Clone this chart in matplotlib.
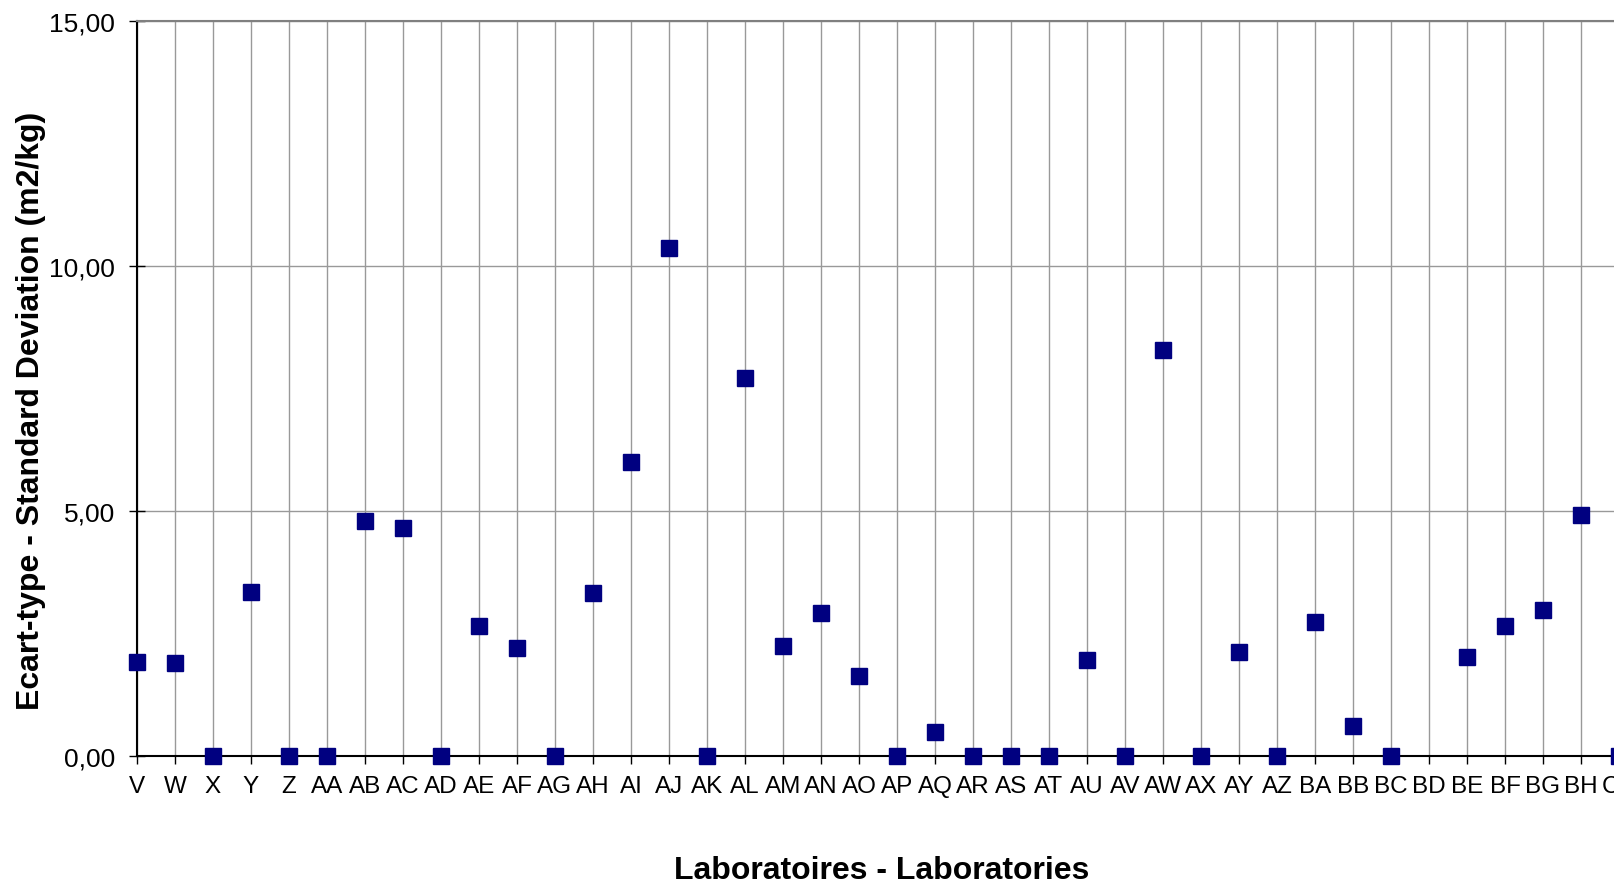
import numpy as np
import matplotlib.pyplot as plt

plt.rcParams['font.family'] = ['Liberation Sans', 'DejaVu Sans']

# Données
labos = ['V', 'W', 'X', 'Y', 'Z', 'AA', 'AB', 'AC', 'AD', 'AE', 'AF', 'AG',
         'AH', 'AI', 'AJ', 'AK', 'AL', 'AM', 'AN', 'AO', 'AP', 'AQ', 'AR',
         'AS', 'AT', 'AU', 'AV', 'AW', 'AX', 'AY', 'AZ', 'BA', 'BB', 'BC',
         'BD', 'BE', 'BF', 'BG', 'BH', 'CA']
ecart_type = [1.91, 1.89, 0.0, 3.34, 0.0, 0.0, 4.79, 4.66, 0.0, 2.65, 2.21, 0.0,
              3.32, 6.01, 10.36, 0.0, 7.71, 2.25, 2.92, 1.64, 0.0, 0.48, 0.0,
              0.0, 0.0, 1.95, 0.0, 8.28, 0.0, 2.12, 0.0, 2.73, 0.61, 0.0,
              np.nan, 2.02, 2.65, 2.98, 4.92, 0.0]
y_ticks = [0, 5, 10, 15]

W, H = 1615, 887
fig = plt.figure(figsize=(W / 100, H / 100), dpi=100)

# l'axe dépasse à droite (graphique coupé comme l'original)
x_max = 44
pas = 38.0
left, bottom, top = 137, 130, 22
ax = fig.add_axes([left / W, bottom / H, x_max * pas / W, (H - bottom - top) / H])

x = np.arange(len(labos))
ax.plot(x, ecart_type, linestyle='none', marker='s', ms=11.5,
        color='#000080', markeredgecolor='#000080', zorder=5, clip_on=False)

ax.set_xlim(0, x_max)
ax.set_ylim(0, 15)
ax.set_xticks(x)
ax.set_xticklabels(labos, fontsize=17.5)
ax.set_yticks(y_ticks)
ax.set_yticklabels([f'{v:.2f}'.replace('.', ',') for v in y_ticks], fontsize=19)

ax.grid(True, axis='both', color='#999999', linewidth=1.0)
ax.set_axisbelow(True)

ax.spines['right'].set_visible(False)
ax.spines['top'].set_color('#808080')
ax.spines['top'].set_linewidth(1.5)
for s in ['left', 'bottom']:
    ax.spines[s].set_color('black')
    ax.spines[s].set_linewidth(1.5)

ax.tick_params(axis='x', direction='out', length=6, width=1, pad=8)
ax.tick_params(axis='y', direction='inout', length=12, width=1, pad=10)

fig.text(31 / W, 1 - 411 / H, 'Ecart-type - Standard Deviation (m2/kg)',
         fontsize=23, fontweight='bold', rotation=90, ha='center', va='center')
fig.text(882 / W, 1 - 871 / H, 'Laboratoires - Laboratories', fontsize=23,
         fontweight='bold', ha='center', va='center')

fig.savefig('out.png', dpi=100)
